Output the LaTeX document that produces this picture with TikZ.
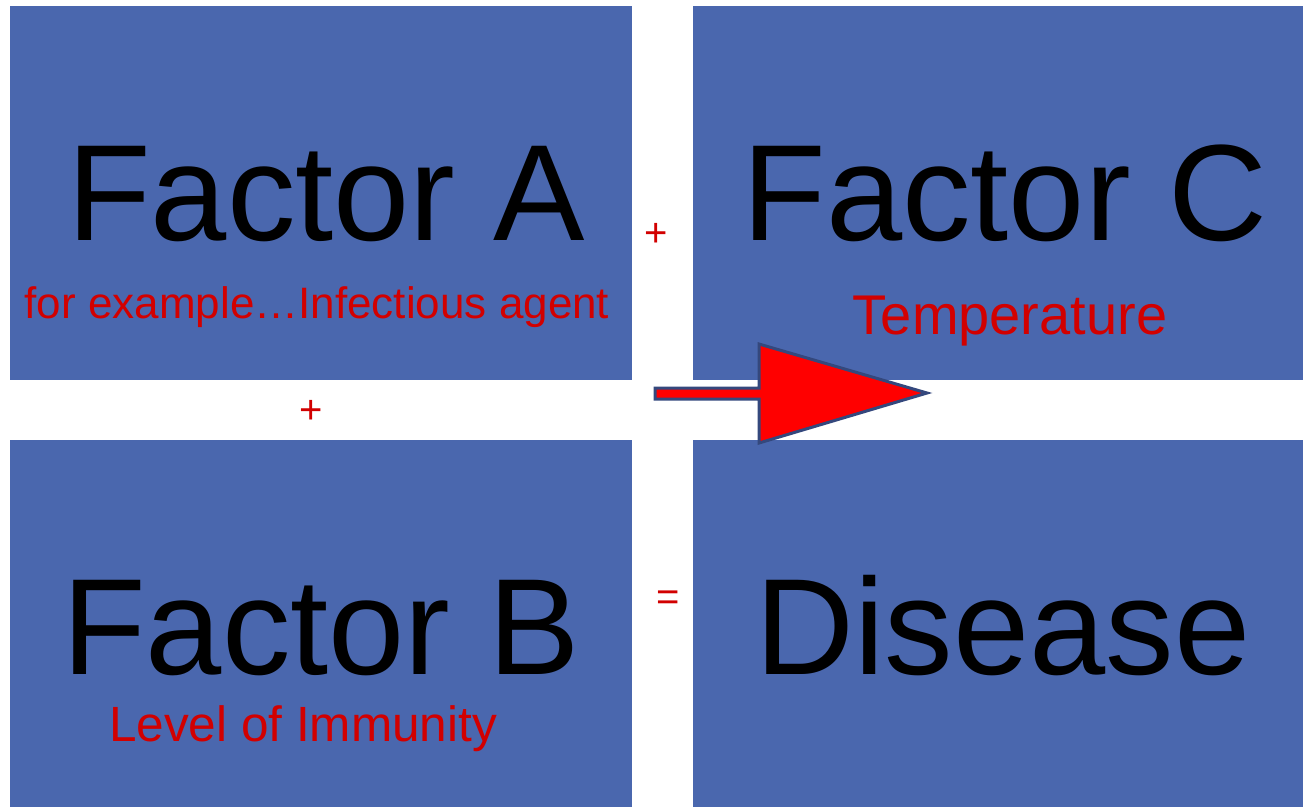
\documentclass[tikz,border=0pt]{standalone}
\usepackage{fontspec}
\setmainfont{Liberation Sans}
\definecolor{boxblue}{RGB}{74,103,174}
\definecolor{txtred}{RGB}{210,0,0}
\definecolor{arrowedge}{RGB}{52,72,125}
\tikzset{
  panel/.style={fill=boxblue, draw=none, inner sep=0pt, anchor=north west},
  bigtxt/.style={anchor=base, inner sep=0pt, text=black, font=\fontsize{137}{137}\selectfont},
  subtxt/.style={anchor=base, inner sep=0pt, text=txtred},
  optxt/.style={anchor=center, inner sep=0pt, text=txtred, font=\fontsize{40}{40}\selectfont},
}
\begin{document}
\begin{tikzpicture}[x=1pt,y=-1pt]
\useasboundingbox[fill=white] (0,0) rectangle (1303,807);
% panels
\node[panel, minimum width=622pt, minimum height=374pt] (pa) at (10,6) {};
\node[panel, minimum width=610pt, minimum height=374pt] (pc) at (693,6) {};
\node[panel, minimum width=622pt, minimum height=367pt] (pb) at (10,440) {};
\node[panel, minimum width=610pt, minimum height=367pt] (pd) at (693,440) {};
% titles
\node[bigtxt] (ta) at (326,240) {Factor A};
\node[bigtxt] (tc) at (1005,240) {Factor C};
\node[bigtxt] (tb) at (321,674) {Factor B};
\node[bigtxt] (td) at (1003,674) {Disease};
% subtitles
\node[subtxt, font=\fontsize{44}{44}\selectfont] (sa) at (317,318) {for example…Infectious agent};
\node[subtxt, font=\fontsize{56}{56}\selectfont] (sc) at (1010,334) {Temperature};
\node[subtxt, font=\fontsize{49.5}{49.5}\selectfont] (sb) at (303,741) {Level of Immunity};
% operators
\node[optxt] (p1) at (656,235) {+};
\node[optxt] (p2) at (311,412) {+};
\node[optxt] (eq) at (668,601) {=};
% block arrow
\draw[fill=red, draw=arrowedge, line width=3pt, line join=miter]
  (655,388) -- (759,388) -- (759,344) -- (927,393) -- (759,443) -- (759,399) -- (655,399) -- cycle;
\end{tikzpicture}
\end{document}
